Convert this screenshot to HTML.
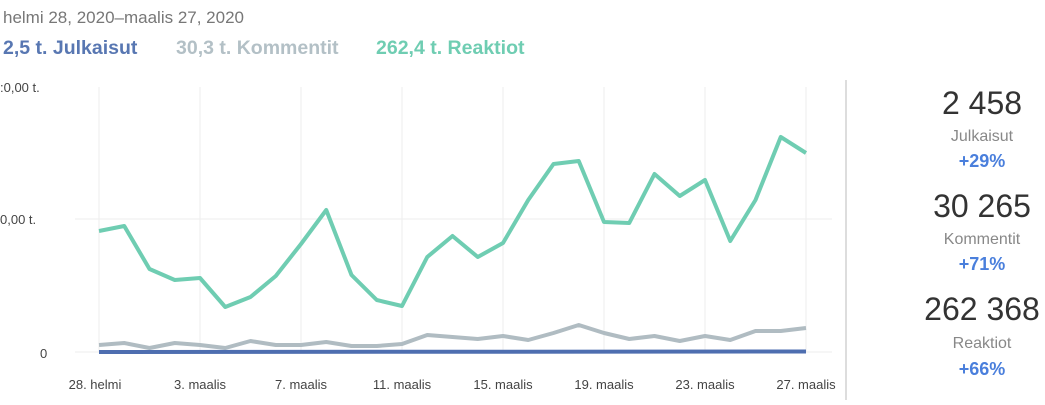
<!DOCTYPE html>
<html><head><meta charset="utf-8"><style>
body{margin:0;background:#fff;width:1045px;height:400px;overflow:hidden;font-family:"Liberation Sans",sans-serif}
</style></head><body>
<svg width="1045" height="400" xmlns="http://www.w3.org/2000/svg" font-family="Liberation Sans, sans-serif">
<text x="3" y="23" font-size="17" fill="#777">helmi 28, 2020–maalis 27, 2020</text>
<text x="3" y="54" font-size="19.5" font-weight="bold" fill="#5877b2">2,5 t.  Julkaisut</text>
<text x="176" y="54" font-size="19.5" font-weight="bold" fill="#b3c0c6">30,3 t.  Kommentit</text>
<text x="376" y="54" font-size="19.5" font-weight="bold" fill="#6fcdb2">262,4 t.  Reaktiot</text>
<text x="0" y="92" font-size="13" fill="#444">:0,00 t.</text>
<text x="0" y="224" font-size="13" fill="#444">0,00 t.</text>
<text x="40" y="358" font-size="13" fill="#444">0</text>
<g stroke="#eeeeee" stroke-width="1">
<line x1="99" y1="87" x2="99" y2="352"/><line x1="200" y1="87" x2="200" y2="352"/><line x1="301" y1="87" x2="301" y2="352"/><line x1="402" y1="87" x2="402" y2="352"/><line x1="503" y1="87" x2="503" y2="352"/><line x1="604" y1="87" x2="604" y2="352"/><line x1="705" y1="87" x2="705" y2="352"/><line x1="806" y1="87" x2="806" y2="352"/>
<line x1="75" y1="219" x2="832" y2="219"/><line x1="75" y1="352" x2="832" y2="352"/>
</g>
<line x1="846" y1="80" x2="846" y2="400" stroke="#ddd" stroke-width="2"/>
<polyline fill="none" stroke="#6fcdb2" stroke-width="4" stroke-linejoin="round" points="99,231 124.25,226 149.5,269 174.75,280 200,278 225.25,307 250.5,297 275.75,276 301,244 326.25,210 351.5,275 376.75,300 402,306 427.25,257 452.5,236 477.75,257 503,243 528.25,200 553.5,164 578.75,161 604,222 629.25,223 654.5,174 679.75,196 705,180 730.25,241 755.5,200 780.75,137 806,153"/>
<polyline fill="none" stroke="#b0bcc2" stroke-width="4" stroke-linejoin="round" points="99,345 124.25,343 149.5,348 174.75,343 200,345 225.25,348 250.5,341 275.75,345 301,345 326.25,342 351.5,346 376.75,346 402,344 427.25,335 452.5,337 477.75,339 503,336 528.25,340 553.5,333 578.75,325 604,333 629.25,339 654.5,336 679.75,341 705,336 730.25,340 755.5,331 780.75,331 806,328"/>
<line x1="99" y1="352" x2="806" y2="351.5" stroke="#4e6eb0" stroke-width="4"/>
<g font-size="13" fill="#444" text-anchor="middle">
<text x="95" y="389">28. helmi</text><text x="200" y="389">3. maalis</text><text x="301" y="389">7. maalis</text><text x="402" y="389">11. maalis</text><text x="503" y="389">15. maalis</text><text x="604" y="389">19. maalis</text><text x="705" y="389">23. maalis</text><text x="806" y="389">27. maalis</text>
</g>
<g text-anchor="middle">
<text x="982" y="114" font-size="32" fill="#333">2 458</text>
<text x="982" y="141" font-size="16" fill="#888">Julkaisut</text>
<text x="982" y="167" font-size="18" font-weight="bold" fill="#4a7fdc">+29%</text>
<text x="982" y="217" font-size="32" fill="#333">30 265</text>
<text x="982" y="244" font-size="16" fill="#888">Kommentit</text>
<text x="982" y="270" font-size="18" font-weight="bold" fill="#4a7fdc">+71%</text>
<text x="982" y="320" font-size="32" fill="#333">262 368</text>
<text x="982" y="348" font-size="16" fill="#888">Reaktiot</text>
<text x="982" y="375" font-size="18" font-weight="bold" fill="#4a7fdc">+66%</text>
</g>
</svg>
</body></html>
